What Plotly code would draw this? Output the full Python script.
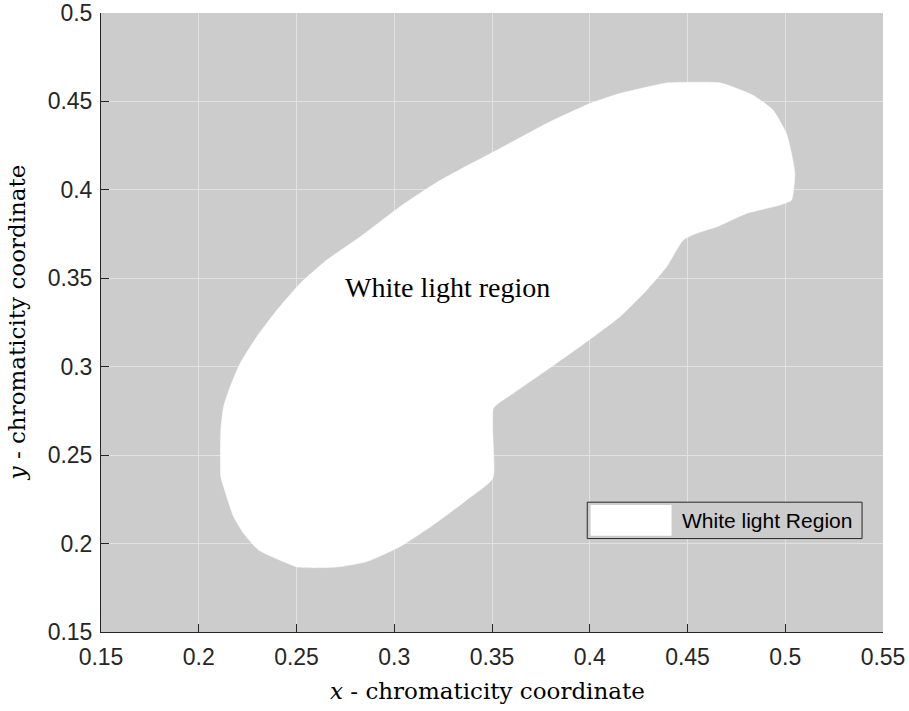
import plotly.graph_objects as go

# Boundary of the white light region in CIE 1931 (x, y) chromaticity space,
# traced clockwise starting at the lower end of the left vertical edge.
region_x = [
    0.2113, 0.2113, 0.2127, 0.2161, 0.2212, 0.2297, 0.2400, 0.2519, 0.2655,
    0.2825, 0.3030, 0.3235, 0.3541, 0.3797, 0.4001, 0.4154, 0.4359, 0.4400,
    0.4665, 0.4835, 0.4938, 0.5006, 0.5032, 0.5049, 0.5032, 0.4972, 0.4802,
    0.4649, 0.4546, 0.4478, 0.4393, 0.4291, 0.4154, 0.3984, 0.3780, 0.3609,
    0.3507, 0.3504, 0.3371, 0.3200, 0.3030, 0.2860, 0.2706, 0.2505, 0.2433,
    0.2306, 0.2229, 0.2178, 0.2127,
]
region_y = [
    0.2377, 0.2642, 0.2774, 0.2887, 0.3019, 0.3169, 0.3320, 0.3471, 0.3603,
    0.3734, 0.3905, 0.4054, 0.4234, 0.4385, 0.4488, 0.4545, 0.4597, 0.4605,
    0.4605, 0.4535, 0.4450, 0.4319, 0.4206, 0.4093, 0.3942, 0.3914, 0.3867,
    0.3791, 0.3754, 0.3716, 0.3565, 0.3433, 0.3283, 0.3141, 0.2981, 0.2850,
    0.2765, 0.2369, 0.2247, 0.2106, 0.1983, 0.1898, 0.1867, 0.1867, 0.1898,
    0.1964, 0.2059, 0.2153, 0.2322,
]

x_ticks = [0.15, 0.2, 0.25, 0.3, 0.35, 0.4, 0.45, 0.5, 0.55]
x_tick_text = ["0.15", "0.2", "0.25", "0.3", "0.35", "0.4", "0.45", "0.5", "0.55"]
y_ticks = [0.15, 0.2, 0.25, 0.3, 0.35, 0.4, 0.45, 0.5]
y_tick_text = ["0.15", "0.2", "0.25", "0.3", "0.35", "0.4", "0.45", "0.5"]

series_name = "White light Region"
region_label = "White light region"
region_label_pos = (0.274, 0.3448)

AXIS_COLOR = "#262626"
BG = "#cccccc"
GRID = "#e2e2e2"
TICK_FONT = dict(family="Liberation Sans, Arial, sans-serif", size=23, color=AXIS_COLOR)
TITLE_FONT = dict(family="DejaVu Serif, serif", size=23, color="#000000")

fig = go.Figure()
fig.add_trace(go.Scatter(
    x=region_x + region_x[:1],
    y=region_y + region_y[:1],
    mode="lines",
    fill="toself",
    fillcolor="#ffffff",
    line=dict(color="#ffffff", width=0.5, shape="spline", smoothing=0.5),
    name=series_name,
    showlegend=False,
    hoverinfo="skip",
))

axis_common = dict(
    showline=True, linecolor=AXIS_COLOR, linewidth=1,
    ticks="inside", ticklen=8, tickwidth=1, tickcolor=AXIS_COLOR,
    showgrid=True, gridcolor=GRID, gridwidth=1,
    zeroline=False, mirror=False, tickfont=TICK_FONT,
    automargin=False, layer="above traces",
)

fig.update_layout(
    width=909, height=711,
    margin=dict(l=101, r=26, t=13, b=79),
    paper_bgcolor="#ffffff",
    plot_bgcolor=BG,
    showlegend=False,
    xaxis=dict(range=[0.15, 0.55], tickvals=x_ticks, ticktext=x_tick_text,
               ticklabelstandoff=4, **axis_common),
    yaxis=dict(range=[0.15, 0.5], tickvals=y_ticks, ticktext=y_tick_text,
               ticklabelstandoff=3, **axis_common),
)

# Axis titles
fig.add_annotation(
    xref="paper", yref="paper", x=0.494, y=-0.095,
    xanchor="center", yanchor="middle", showarrow=False,
    text="<i>x</i> - chromaticity coordinate", font=TITLE_FONT,
)
fig.add_annotation(
    xref="paper", yref="paper", x=-0.1075, y=0.5,
    xanchor="center", yanchor="middle", showarrow=False, textangle=-90,
    text="<i>y</i> - chromaticity coordinate", font=TITLE_FONT,
)

# Label inside the region
fig.add_annotation(
    x=region_label_pos[0], y=region_label_pos[1],
    xanchor="left", yanchor="middle", showarrow=False,
    text=region_label,
    font=dict(family="Liberation Serif, Times New Roman, serif", size=28, color="#000000"),
)

# Legend box with a white swatch
fig.add_shape(type="rect", xref="paper", yref="paper",
              x0=0.6218, x1=0.9732, y0=0.1509, y1=0.2097,
              fillcolor=BG, line=dict(color=AXIS_COLOR, width=1))
fig.add_shape(type="rect", xref="paper", yref="paper",
              x0=0.6261, x1=0.7296, y0=0.1553, y1=0.2053,
              fillcolor="#ffffff", line=dict(width=0))
fig.add_annotation(
    xref="paper", yref="paper", x=0.7402, y=0.1795,
    xanchor="left", yanchor="middle", showarrow=False,
    text=series_name,
    font=dict(family="Liberation Sans, Arial, sans-serif", size=21, color="#000000"),
)

fig.write_html("out.html")
